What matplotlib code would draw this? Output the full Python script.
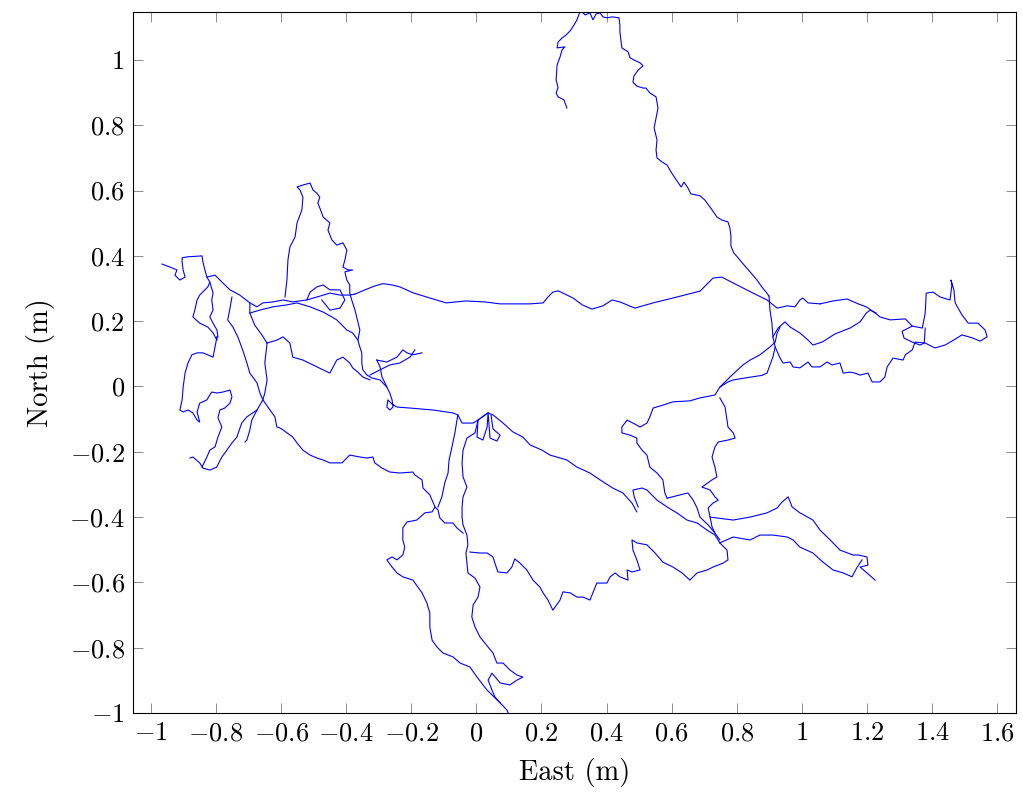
import numpy as np
import matplotlib
matplotlib.use("Agg")
import matplotlib.pyplot as plt
from matplotlib.ticker import FuncFormatter, MultipleLocator

tick_fs = 19
label_fs = 20.5
plt.rcParams['font.family'] = 'serif'
plt.rcParams['font.serif'] = ['cmr10']
plt.rcParams['mathtext.fontset'] = 'cm'
plt.rcParams['axes.unicode_minus'] = False

# trajectory pieces (east, north) in metres
north_tail = [(0.278, 0.853), (0.269, 0.878), (0.251, 0.887), (0.245, 0.899), (0.251, 0.915), (0.245, 0.939),
              (0.248, 0.985), (0.257, 1.009), (0.263, 1.031), (0.272, 1.040), (0.248, 1.037), (0.251, 1.055),
              (0.263, 1.067), (0.275, 1.076), (0.288, 1.089), (0.300, 1.107), (0.309, 1.123), (0.318, 1.147),
              (0.328, 1.144), (0.334, 1.138), (0.349, 1.144), (0.358, 1.123), (0.368, 1.141), (0.380, 1.144),
              (0.389, 1.132), (0.401, 1.129), (0.417, 1.132), (0.438, 1.129), (0.441, 1.107), (0.441, 1.086),
              (0.444, 1.061), (0.447, 1.037), (0.466, 1.025), (0.472, 1.007), (0.484, 1.000), (0.503, 0.991),
              (0.512, 0.982), (0.497, 0.969), (0.484, 0.951), (0.481, 0.932), (0.493, 0.920), (0.512, 0.914),
              (0.521, 0.914), (0.533, 0.899), (0.552, 0.887), (0.558, 0.853), (0.552, 0.822), (0.546, 0.792),
              (0.555, 0.755), (0.552, 0.724), (0.555, 0.700), (0.570, 0.688), (0.586, 0.678), (0.598, 0.657),
              (0.610, 0.639), (0.629, 0.611), (0.638, 0.626), (0.650, 0.608), (0.659, 0.590), (0.687, 0.584),
              (0.702, 0.571), (0.724, 0.541), (0.739, 0.519), (0.754, 0.510), (0.773, 0.504), (0.779, 0.485),
              (0.782, 0.461), (0.782, 0.430), (0.791, 0.409), (0.804, 0.394), (0.825, 0.369), (0.841, 0.351),
              (0.862, 0.326), (0.877, 0.305), (0.890, 0.289), (0.899, 0.277)]

long_route = [(-0.373, 0.283), (-0.342, 0.296), (-0.312, 0.308), (-0.287, 0.315), (-0.259, 0.311), (-0.235, 0.305),
              (-0.195, 0.287), (-0.143, 0.271), (-0.093, 0.256), (-0.032, 0.262), (0.026, 0.259), (0.073, 0.253),
              (0.165, 0.253), (0.205, 0.256), (0.220, 0.274), (0.235, 0.289), (0.251, 0.293), (0.266, 0.286),
              (0.297, 0.271), (0.325, 0.250), (0.355, 0.237), (0.389, 0.247), (0.417, 0.265), (0.441, 0.259),
              (0.487, 0.240), (0.543, 0.256), (0.616, 0.274), (0.687, 0.292), (0.727, 0.332), (0.754, 0.335),
              (0.789, 0.317), (0.850, 0.286), (0.893, 0.265), (0.924, 0.240), (0.955, 0.247), (0.979, 0.244),
              (0.994, 0.265), (1.003, 0.271), (1.019, 0.256), (1.056, 0.253)]

east_lobe = [(1.056, 0.253), (1.096, 0.262), (1.139, 0.268), (1.173, 0.253), (1.198, 0.244), (1.225, 0.225),
             (1.240, 0.213), (1.271, 0.204), (1.318, 0.207), (1.339, 0.185), (1.370, 0.179), (1.379, 0.225),
             (1.382, 0.286), (1.403, 0.289), (1.425, 0.274), (1.455, 0.265), (1.461, 0.311), (1.458, 0.326),
             (1.467, 0.296), (1.471, 0.256), (1.492, 0.219), (1.511, 0.194), (1.541, 0.194), (1.563, 0.173),
             (1.569, 0.152), (1.548, 0.139), (1.523, 0.149), (1.492, 0.158), (1.471, 0.145), (1.440, 0.127),
             (1.409, 0.118), (1.379, 0.133), (1.348, 0.136), (1.339, 0.112), (1.318, 0.097), (1.311, 0.081),
             (1.280, 0.087), (1.262, 0.060), (1.255, 0.029), (1.240, 0.014), (1.216, 0.014), (1.203, 0.041),
             (1.179, 0.035), (1.163, 0.041), (1.148, 0.044), (1.127, 0.041), (1.117, 0.072), (1.093, 0.066),
             (1.077, 0.075), (1.056, 0.060), (1.031, 0.060), (1.019, 0.075), (0.994, 0.057), (0.973, 0.060),
             (0.964, 0.075), (0.942, 0.072), (0.933, 0.087), (0.918, 0.121)]

east_inner = [(0.911, 0.152), (0.927, 0.179), (0.948, 0.198), (0.964, 0.182), (0.994, 0.164), (1.019, 0.142),
              (1.034, 0.127), (1.062, 0.136), (1.102, 0.161), (1.148, 0.179), (1.179, 0.198), (1.198, 0.225),
              (1.210, 0.234), (1.228, 0.225)]

east_notch = [(1.339, 0.185), (1.308, 0.169), (1.314, 0.148), (1.339, 0.136), (1.363, 0.127), (1.376, 0.133),
              (1.379, 0.179)]

junction_south = [(0.899, 0.277), (0.902, 0.234), (0.908, 0.194), (0.911, 0.152), (0.918, 0.121), (0.911, 0.090),
                  (0.902, 0.066), (0.893, 0.041), (0.877, 0.034), (0.825, 0.026), (0.789, 0.020), (0.773, 0.014),
                  (0.748, -0.002), (0.733, -0.026), (0.687, -0.035), (0.656, -0.044), (0.604, -0.047),
                  (0.573, -0.057), (0.543, -0.066), (0.533, -0.093), (0.524, -0.112), (0.503, -0.124),
                  (0.481, -0.112), (0.463, -0.103), (0.447, -0.124), (0.447, -0.142), (0.472, -0.149),
                  (0.493, -0.158), (0.493, -0.173), (0.509, -0.195), (0.524, -0.210), (0.533, -0.247),
                  (0.555, -0.265), (0.573, -0.286), (0.579, -0.326), (0.586, -0.342)]

junction_link = [(0.748, -0.002), (0.779, 0.029), (0.819, 0.066), (0.841, 0.081), (0.871, 0.097), (0.902, 0.121),
                 (0.918, 0.136), (0.924, 0.164), (0.933, 0.182)]

east_branch = [(0.748, -0.035), (0.764, -0.063), (0.770, -0.103), (0.773, -0.124), (0.789, -0.142), (0.795, -0.158),
               (0.773, -0.164), (0.743, -0.170), (0.733, -0.185), (0.724, -0.216), (0.733, -0.247),
               (0.739, -0.277), (0.724, -0.286), (0.693, -0.308), (0.718, -0.317), (0.733, -0.338),
               (0.743, -0.348), (0.727, -0.357), (0.712, -0.372), (0.718, -0.400), (0.724, -0.430),
               (0.733, -0.449), (0.748, -0.470)]

arm_upper = [(0.718, -0.400), (0.789, -0.409), (0.841, -0.400), (0.893, -0.387), (0.924, -0.372), (0.939, -0.354),
             (0.958, -0.338), (0.970, -0.369), (0.994, -0.387), (1.034, -0.409), (1.056, -0.440), (1.087, -0.470),
             (1.117, -0.501), (1.157, -0.516), (1.173, -0.516), (1.200, -0.522), (1.203, -0.547),
             (1.179, -0.553), (1.200, -0.571), (1.225, -0.593)]

arm_lower = [(0.748, -0.479), (0.789, -0.461), (0.841, -0.470), (0.871, -0.455), (0.911, -0.455), (0.955, -0.461),
             (0.973, -0.470), (0.994, -0.492), (1.034, -0.510), (1.065, -0.538), (1.096, -0.562),
             (1.127, -0.571), (1.154, -0.583), (1.170, -0.553), (1.185, -0.531)]

center_diagonal = [(0.036, -0.081), (0.051, -0.087), (0.082, -0.112), (0.112, -0.139), (0.143, -0.155),
                   (0.165, -0.179), (0.202, -0.195), (0.226, -0.210), (0.278, -0.225), (0.309, -0.247),
                   (0.349, -0.265), (0.380, -0.286), (0.419, -0.311), (0.450, -0.326), (0.478, -0.357),
                   (0.493, -0.384)]

diag_return = [(0.497, -0.369), (0.485, -0.338), (0.481, -0.317), (0.509, -0.311), (0.524, -0.317),
               (0.555, -0.348), (0.586, -0.369), (0.616, -0.387), (0.647, -0.409), (0.678, -0.418),
               (0.709, -0.440), (0.733, -0.455), (0.748, -0.479)]

diag_link = [(0.586, -0.342), (0.626, -0.332), (0.650, -0.326), (0.666, -0.348), (0.678, -0.372),
             (0.687, -0.400), (0.712, -0.424), (0.733, -0.449)]

south_loop = [(0.748, -0.479), (0.770, -0.501), (0.773, -0.531), (0.758, -0.541), (0.727, -0.553), (0.709, -0.562),
              (0.678, -0.571), (0.656, -0.593), (0.632, -0.571), (0.604, -0.553), (0.573, -0.538),
              (0.549, -0.510), (0.524, -0.485), (0.493, -0.479), (0.478, -0.470), (0.481, -0.501),
              (0.493, -0.531), (0.503, -0.562), (0.478, -0.568), (0.463, -0.562), (0.466, -0.593),
              (0.441, -0.583), (0.426, -0.571), (0.411, -0.583), (0.401, -0.602), (0.370, -0.602),
              (0.349, -0.654), (0.328, -0.645), (0.309, -0.645), (0.288, -0.632), (0.266, -0.629),
              (0.257, -0.654), (0.235, -0.685), (0.220, -0.654), (0.205, -0.632), (0.195, -0.614),
              (0.174, -0.593), (0.155, -0.562), (0.134, -0.541), (0.118, -0.528), (0.109, -0.553),
              (0.094, -0.571), (0.066, -0.568), (0.057, -0.541), (0.051, -0.522), (0.033, -0.510),
              (0.011, -0.510), (-0.020, -0.507)]

strand_east = [(0.036, -0.081), (0.005, -0.103), (-0.004, -0.142), (-0.029, -0.158), (-0.041, -0.195),
               (-0.044, -0.234), (-0.041, -0.277), (-0.029, -0.308), (-0.041, -0.338), (-0.044, -0.369),
               (-0.044, -0.400), (-0.041, -0.424), (-0.029, -0.455), (-0.026, -0.485), (-0.032, -0.510),
               (-0.026, -0.571), (-0.004, -0.587), (0.011, -0.614), (0.005, -0.645), (-0.010, -0.669),
               (-0.014, -0.706), (-0.004, -0.737), (0.011, -0.767), (0.036, -0.798), (0.051, -0.816),
               (0.063, -0.847), (0.082, -0.847), (0.103, -0.868), (0.125, -0.884), (0.143, -0.890),
               (0.125, -0.899), (0.103, -0.914), (0.073, -0.908), (0.048, -0.878), (0.036, -0.899),
               (0.048, -0.930), (0.057, -0.951), (0.073, -0.969), (0.094, -0.991), (0.100, -1.006)]

center_knots = [(0.005, -0.103), (0.002, -0.155), (0.020, -0.164), (0.033, -0.124), (0.036, -0.081),
                (0.042, -0.158), (0.063, -0.167), (0.073, -0.149), (0.051, -0.130), (0.045, -0.087)]

south_lobe = [(0.073, -0.969), (0.033, -0.930), (0.002, -0.890), (-0.020, -0.859), (-0.050, -0.847),
              (-0.072, -0.828), (-0.103, -0.816), (-0.121, -0.798), (-0.136, -0.777), (-0.143, -0.737),
              (-0.143, -0.694), (-0.152, -0.663), (-0.167, -0.632), (-0.195, -0.593), (-0.226, -0.583),
              (-0.244, -0.571), (-0.259, -0.553), (-0.275, -0.531), (-0.259, -0.522), (-0.244, -0.531),
              (-0.226, -0.516), (-0.220, -0.492), (-0.226, -0.470), (-0.226, -0.433), (-0.213, -0.415),
              (-0.183, -0.409), (-0.158, -0.387), (-0.136, -0.384), (-0.127, -0.369), (-0.118, -0.378),
              (-0.112, -0.403), (-0.097, -0.418), (-0.072, -0.418), (-0.060, -0.433), (-0.041, -0.449)]

strand_west = [(-0.057, -0.087), (-0.066, -0.142), (-0.075, -0.185), (-0.084, -0.225), (-0.087, -0.265),
               (-0.097, -0.295), (-0.106, -0.338), (-0.118, -0.369)]

west_route = [(-0.127, -0.369), (-0.143, -0.332), (-0.164, -0.311), (-0.167, -0.286), (-0.189, -0.271),
              (-0.195, -0.262), (-0.235, -0.265), (-0.266, -0.262), (-0.290, -0.250), (-0.312, -0.234),
              (-0.318, -0.216), (-0.336, -0.219), (-0.358, -0.216), (-0.389, -0.210), (-0.413, -0.234),
              (-0.450, -0.234), (-0.471, -0.225), (-0.490, -0.219), (-0.511, -0.210), (-0.533, -0.195),
              (-0.551, -0.173), (-0.564, -0.155), (-0.594, -0.133), (-0.604, -0.127), (-0.613, -0.124),
              (-0.619, -0.093), (-0.634, -0.072), (-0.656, -0.041), (-0.665, -0.020), (-0.674, 0.011),
              (-0.696, 0.041), (-0.705, 0.072), (-0.718, 0.112), (-0.733, 0.152), (-0.748, 0.182),
              (-0.764, 0.204), (-0.758, 0.234), (-0.751, 0.274)]

x_strand = [(-0.643, 0.133), (-0.650, 0.072), (-0.643, 0.020), (-0.650, -0.020), (-0.656, -0.041),
            (-0.674, -0.072), (-0.690, -0.103), (-0.696, -0.133), (-0.705, -0.164), (-0.711, -0.170)]

southwest_tail = [(-0.674, -0.072), (-0.705, -0.093), (-0.721, -0.112), (-0.736, -0.155), (-0.751, -0.173),
                  (-0.773, -0.204), (-0.782, -0.216), (-0.798, -0.247), (-0.819, -0.256), (-0.840, -0.250),
                  (-0.850, -0.234), (-0.871, -0.216), (-0.880, -0.219)]

west_lobe = [(-0.797, 0.152), (-0.803, 0.121), (-0.809, 0.090), (-0.840, 0.103), (-0.858, 0.103),
             (-0.874, 0.097), (-0.886, 0.072), (-0.895, 0.041), (-0.901, -0.002), (-0.904, -0.041),
             (-0.911, -0.072), (-0.901, -0.078), (-0.886, -0.072), (-0.871, -0.081), (-0.858, -0.103),
             (-0.850, -0.109), (-0.858, -0.078), (-0.850, -0.051), (-0.828, -0.041), (-0.819, -0.026),
             (-0.813, -0.017), (-0.797, -0.020), (-0.779, -0.017), (-0.757, -0.011), (-0.751, -0.032),
             (-0.757, -0.051), (-0.773, -0.066), (-0.788, -0.072), (-0.794, -0.096), (-0.782, -0.124),
             (-0.794, -0.155), (-0.803, -0.185), (-0.819, -0.195), (-0.828, -0.216), (-0.843, -0.247)]

northwest_lobe = [(-0.966, 0.375), (-0.942, 0.366), (-0.920, 0.357), (-0.926, 0.341), (-0.911, 0.326),
                  (-0.895, 0.335), (-0.901, 0.357), (-0.904, 0.381), (-0.904, 0.394), (-0.889, 0.397),
                  (-0.843, 0.400), (-0.840, 0.381), (-0.834, 0.357), (-0.828, 0.335), (-0.819, 0.320),
                  (-0.825, 0.305), (-0.834, 0.296), (-0.850, 0.280), (-0.858, 0.265), (-0.865, 0.234),
                  (-0.871, 0.213), (-0.850, 0.194), (-0.825, 0.182), (-0.809, 0.164), (-0.797, 0.142),
                  (-0.797, 0.152)]

northwest_strand = [(-0.819, 0.320), (-0.809, 0.286), (-0.813, 0.265), (-0.809, 0.234), (-0.819, 0.213),
                    (-0.809, 0.194), (-0.797, 0.173), (-0.794, 0.152)]

upper_band = [(-0.828, 0.335), (-0.803, 0.341), (-0.782, 0.320), (-0.757, 0.296), (-0.727, 0.280),
              (-0.696, 0.256), (-0.674, 0.244), (-0.656, 0.256), (-0.625, 0.259), (-0.594, 0.265),
              (-0.564, 0.259), (-0.521, 0.265), (-0.490, 0.274), (-0.450, 0.286), (-0.419, 0.280),
              (-0.389, 0.280), (-0.373, 0.283)]

lower_band = [(-0.696, 0.225), (-0.665, 0.234), (-0.625, 0.244), (-0.582, 0.250), (-0.551, 0.256),
              (-0.511, 0.244), (-0.471, 0.228), (-0.444, 0.213), (-0.429, 0.204), (-0.413, 0.188),
              (-0.398, 0.173), (-0.380, 0.164), (-0.364, 0.142), (-0.358, 0.121), (-0.352, 0.103),
              (-0.352, 0.072), (-0.349, 0.051), (-0.336, 0.035), (-0.321, 0.026), (-0.296, 0.020),
              (-0.275, -0.002), (-0.266, -0.020), (-0.259, -0.041), (-0.256, -0.063), (-0.266, -0.072),
              (-0.275, -0.063), (-0.272, -0.041), (-0.259, -0.054), (-0.244, -0.063), (-0.204, -0.066),
              (-0.133, -0.072), (-0.072, -0.081), (-0.057, -0.087), (-0.044, -0.112), (-0.010, -0.112),
              (0.005, -0.103), (0.026, -0.087), (0.036, -0.081)]

band_link = [(-0.696, 0.256), (-0.696, 0.225), (-0.681, 0.188), (-0.659, 0.158), (-0.643, 0.133)]

x_top = [(-0.643, 0.133), (-0.613, 0.142), (-0.594, 0.152), (-0.573, 0.133), (-0.564, 0.090), (-0.533, 0.081),
         (-0.502, 0.066), (-0.471, 0.051), (-0.450, 0.041), (-0.429, 0.081), (-0.410, 0.090), (-0.389, 0.072),
         (-0.380, 0.057), (-0.364, 0.044), (-0.349, 0.029), (-0.327, 0.020)]

spur = [(-0.327, 0.035), (-0.296, 0.051), (-0.266, 0.066), (-0.235, 0.072), (-0.204, 0.090), (-0.189, 0.112)]

spur_tip = [(-0.306, 0.081), (-0.275, 0.075), (-0.244, 0.090), (-0.226, 0.112), (-0.213, 0.103),
            (-0.195, 0.097), (-0.167, 0.103)]

spur_stem = [(-0.306, 0.081), (-0.296, 0.060), (-0.290, 0.029), (-0.281, 0.011), (-0.275, -0.002)]

peak = [(-0.588, 0.274), (-0.582, 0.326), (-0.579, 0.387), (-0.573, 0.427), (-0.557, 0.458), (-0.551, 0.501),
        (-0.536, 0.541), (-0.533, 0.580), (-0.542, 0.602), (-0.551, 0.611), (-0.533, 0.617), (-0.511, 0.623),
        (-0.502, 0.602), (-0.490, 0.592), (-0.481, 0.580), (-0.487, 0.562), (-0.475, 0.531), (-0.471, 0.519),
        (-0.450, 0.501), (-0.456, 0.479), (-0.444, 0.449), (-0.429, 0.433), (-0.410, 0.440), (-0.398, 0.418),
        (-0.404, 0.387), (-0.410, 0.366), (-0.395, 0.357), (-0.380, 0.357), (-0.404, 0.351), (-0.398, 0.326),
        (-0.389, 0.311), (-0.389, 0.286), (-0.383, 0.265), (-0.373, 0.234), (-0.367, 0.210), (-0.358, 0.173),
        (-0.364, 0.142)]

mid_loop = [(-0.521, 0.265), (-0.511, 0.289), (-0.490, 0.305), (-0.471, 0.311), (-0.450, 0.296),
            (-0.419, 0.296), (-0.404, 0.265), (-0.419, 0.240), (-0.450, 0.234), (-0.475, 0.265)]

pieces = [north_tail, long_route, east_lobe, east_inner, east_notch, junction_south, junction_link,
          east_branch, arm_upper, arm_lower, center_diagonal, diag_return, diag_link, south_loop,
          strand_east, center_knots, south_lobe, strand_west, west_route, x_strand, southwest_tail,
          west_lobe, northwest_lobe, northwest_strand, upper_band, lower_band, band_link, x_top,
          spur, spur_tip, spur_stem, peak, mid_loop]

fig = plt.figure(figsize=(10.23, 7.98), dpi=100)
ax = fig.add_axes([0.130, 0.1065, 0.8632, 0.8785])

for piece in pieces:
    east, north = zip(*piece)
    ax.plot(east, north, color='blue', linewidth=0.8, solid_joinstyle='round')

ax.set_xlim(-1.055, 1.658)
ax.set_ylim(-1.0, 1.147)
ax.xaxis.set_major_locator(MultipleLocator(0.2))
ax.yaxis.set_major_locator(MultipleLocator(0.2))
fmt = FuncFormatter(lambda v, pos: r'$%g$' % round(v, 2) if abs(v) > 1e-9 else r'$0$')
ax.xaxis.set_major_formatter(fmt)
ax.yaxis.set_major_formatter(fmt)
ax.tick_params(which='major', direction='in', top=True, right=True, length=7.5, width=0.7,
               color='0.55', labelsize=tick_fs, pad=6)
for sp in ax.spines.values():
    sp.set_linewidth(0.8)
ax.set_xlabel('East (m)', fontsize=label_fs, labelpad=9)
ax.set_ylabel('North (m)', fontsize=label_fs, labelpad=10)

fig.savefig('out.png', dpi=100)
